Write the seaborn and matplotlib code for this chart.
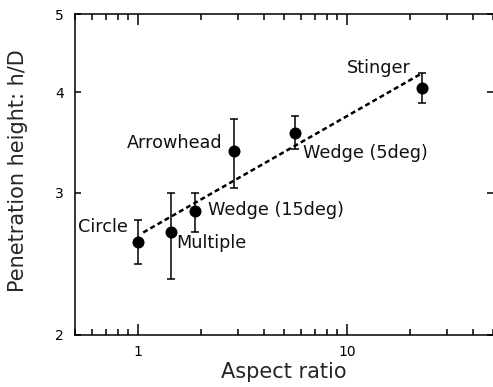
import matplotlib
matplotlib.use("Agg")
import matplotlib.pyplot as plt
import matplotlib.ticker as mticker
import numpy as np
import pandas as pd
import seaborn as sns

# ---- data ----
names = ["Circle", "Multiple", "Wedge (15deg)", "Arrowhead", "Wedge (5deg)", "Stinger"]
aspect = [1.0, 1.44, 1.87, 2.88, 5.64, 22.8]
height = [2.61, 2.68, 2.85, 3.38, 3.56, 4.05]
err_hi = [2.78, 3.00, 3.00, 3.71, 3.74, 4.22]
err_lo = [2.45, 2.35, 2.68, 3.04, 3.40, 3.88]
fit_x = [1.06, 22.8]
fit_y = [2.68, 4.22]
xticks = [1, 10]
xticklabels = ["1", "10"]
yticks = [2, 3, 4, 5]
yticklabels = ["2", "3", "4", "5"]

# label placement (data coords) and alignment
label_pos = [(0.895, 2.72, "right"), (1.53, 2.60, "left"), (2.16, 2.86, "left"),
             (2.54, 3.46, "right"), (6.16, 3.36, "left"), (10.0, 4.29, "left")]

sns.set_style("ticks")
plt.rcParams["font.family"] = ["DejaVu Sans"]

df = pd.DataFrame({"aspect": aspect, "height": height})
fit = pd.DataFrame({"x": fit_x, "y": fit_y})

fig = plt.figure(figsize=(4.93, 3.87), dpi=100)
ax = fig.add_axes([75 / 493, 52 / 387, 418 / 493, 321 / 387])

sns.lineplot(data=fit, x="x", y="y", ax=ax, color="black", lw=1.8,
             linestyle=(0, (2, 1.3)), zorder=2)
yerr = np.array([np.array(height) - np.array(err_lo), np.array(err_hi) - np.array(height)])
ax.errorbar(aspect, height, yerr=yerr, fmt="none", ecolor="black",
            elinewidth=1.1, capsize=3, capthick=1.1, zorder=3)
sns.scatterplot(data=df, x="aspect", y="height", ax=ax, color="black",
                s=75, edgecolor="black", linewidth=0, zorder=4)

for name, (lx, ly, ha) in zip(names, label_pos):
    ax.text(lx, ly, name, ha=ha, va="center", fontsize=12.7, color="#111111")

ax.set_xscale("log")
ax.set_yscale("log")
ax.set_xlim(0.5, 50)
ax.set_ylim(2, 5)

ax.xaxis.set_major_locator(mticker.FixedLocator(xticks))
ax.xaxis.set_major_formatter(mticker.FixedFormatter(xticklabels))
ax.xaxis.set_minor_locator(mticker.LogLocator(base=10, subs=np.arange(2, 10)))
ax.xaxis.set_minor_formatter(mticker.NullFormatter())
ax.yaxis.set_major_locator(mticker.FixedLocator(yticks))
ax.yaxis.set_major_formatter(mticker.FixedFormatter(yticklabels))
ax.yaxis.set_minor_locator(mticker.NullLocator())

ax.tick_params(axis="both", which="both", direction="in", top=True, right=True,
               colors="black", labelsize=10, width=1.1)
ax.tick_params(axis="x", which="major", length=8, pad=7)
ax.tick_params(axis="x", which="minor", length=4)
ax.tick_params(axis="y", which="major", length=4.5, pad=8)

for s in ["left", "bottom", "top"]:
    ax.spines[s].set_linewidth(1.1)
    ax.spines[s].set_color("black")
ax.spines["right"].set_visible(False)

ax.set_xlabel("Aspect ratio", fontsize=15, labelpad=2)
ax.set_ylabel("Penetration height: h/D", fontsize=15)
ax.yaxis.set_label_coords(-0.112, 0.512)

fig.savefig("out.png", dpi=100)
